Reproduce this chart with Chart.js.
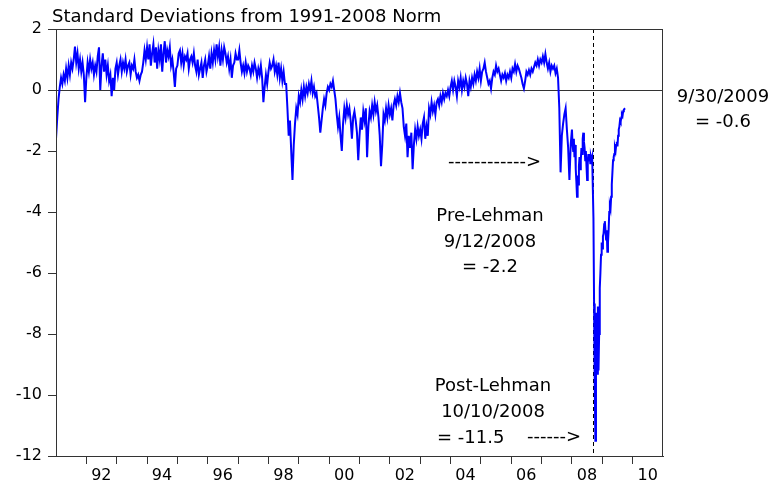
<!DOCTYPE html>
<html>
<head>
<meta charset="utf-8">
<script src="https://cdn.jsdelivr.net/npm/chart.js@4.4.1/dist/chart.umd.min.js"></script>
<style>
  body { margin: 0; background: #fff; }
  #wrap { width: 773px; height: 486px; position: relative; }
</style>
</head>
<body>
<div id="wrap"><canvas id="chart"></canvas></div>
<script>
// Standard deviations from the 1991-2008 norm.
// 1991-2007: two readings per month. 2008-2009: weekly readings.
const sd1991 = [-1.6, -0.9, -0.3, 0.1, 0.4, 0.2, 0.5, 0.3, 0.7, 0.4, 0.8, 0.5, 0.9, 0.7, 1.0, 1.42, 0.9, 1.2, 0.7, 1.0, 0.6, 0.9, 0.5, -0.4];
const sd1992 = [0.4, 0.9, 0.6, 1.0, 0.7, 0.9, 0.5, 0.8, 0.6, 1.1, 1.4, 0.0, 0.8, 1.2, 0.6, 1.0, 0.5, 0.8, 0.3, 0.5, -0.2, 0.4, 0.0, 0.7];
const sd1993 = [0.9, 0.5, 0.8, 1.0, 0.6, 0.9, 0.7, 1.0, 0.6, 0.8, 0.9, 0.5, 0.8, 0.7, 1.0, 0.6, 0.4, 0.5, 0.3, 0.5, 0.6, 0.9, 1.3, 1.0];
const sd1994 = [1.4, 1.0, 1.5, 0.8, 1.2, 1.5, 0.9, 1.4, 0.7, 1.3, 1.0, 1.5, 0.6, 1.2, 1.6, 0.9, 1.3, 1.1, 1.4, 0.8, 1.0, 0.6, 0.1, 0.7];
const sd1995 = [0.8, 1.2, 1.3, 0.9, 1.2, 0.8, 1.1, 1.0, 1.2, 0.7, 1.0, 1.1, 0.9, 1.2, 0.8, 0.6, 1.0, 0.5, 0.7, 0.9, 0.4, 0.8, 1.0, 0.6];
const sd1996 = [0.8, 1.1, 0.7, 1.2, 0.9, 1.3, 1.0, 1.5, 1.1, 1.4, 0.8, 1.3, 1.0, 1.4, 1.2, 0.9, 1.1, 0.7, 1.0, 0.4, 0.8, 0.9, 1.2, 1.0];
const sd1997 = [1.0, 1.3, 0.9, 0.6, 0.8, 0.55, 0.9, 0.6, 0.8, 0.7, 0.5, 0.8, 0.6, 0.9, 0.7, 0.4, 0.7, 0.5, 0.8, 0.4, -0.4, 0.1, 0.5, 0.2];
const sd1998 = [0.6, 0.9, 0.7, 0.8, 1.0, 0.6, 0.8, 0.5, 0.9, 0.4, 0.7, 0.3, 0.6, 0.2, 0.2, -0.6, -1.5, -1.0, -2.0, -2.95, -1.8, -1.1, -0.6, -0.8];
const sd1999 = [-0.2, -0.4, 0.0, -0.3, 0.1, -0.2, 0.1, -0.1, 0.2, 0.0, 0.3, -0.1, 0.1, -0.2, -0.1, -0.5, -0.9, -1.4, -1.0, -0.6, -0.3, -0.5, -0.1, 0.1];
const sd2000 = [0.0, 0.2, 0.1, 0.3, 0.0, -0.3, -0.8, -1.2, -0.9, -1.5, -2.0, -1.1, -0.6, -0.9, -0.5, -0.8, -0.6, -1.0, -1.6, -0.9, -0.7, -1.0, -1.4, -2.3];
const sd2001 = [-1.5, -0.9, -1.3, -0.7, -1.0, -0.6, -2.2, -1.2, -0.7, -0.9, -0.5, -0.8, -0.4, -0.7, -0.5, -0.9, -1.5, -2.5, -1.8, -0.8, -1.0, -0.6, -0.9, -0.5];
const sd2002 = [-0.8, -0.6, -1.0, -0.5, -0.3, -0.5, -0.2, -0.4, -0.1, -0.4, -0.6, -1.2, -1.5, -1.1, -2.2, -1.5, -1.9, -1.4, -2.6, -1.8, -1.3, -1.6, -1.2, -1.5];
const sd2003 = [-1.3, -1.6, -1.1, -0.9, -1.6, -1.2, -1.5, -0.6, -0.8, -0.4, -0.7, -0.5, -0.8, -0.4, -0.3, -0.5, -0.2, -0.4, -0.1, -0.3, -0.1, -0.2, 0.0, -0.2];
const sd2004 = [0.1, 0.3, 0.0, 0.3, 0.1, -0.2, 0.3, 0.1, 0.4, 0.0, 0.3, 0.1, 0.4, 0.2, -0.2, 0.3, 0.1, 0.4, 0.2, 0.5, 0.3, 0.6, 0.4, 0.7];
const sd2005 = [0.3, 0.6, 0.7, 0.9, 0.6, 0.4, 0.2, 0.3, 0.05, 0.4, 0.6, 0.5, 0.8, 0.6, 0.7, 0.5, 0.3, 0.5, 0.4, 0.55, 0.3, 0.5, 0.4, 0.6];
const sd2006 = [0.4, 0.7, 0.6, 0.85, 0.6, 0.8, 0.7, 0.55, 0.4, 0.2, 0.05, 0.3, 0.6, 0.5, 0.65, 0.5, 0.7, 0.6, 0.75, 0.9, 0.8, 1.0, 0.8, 1.0];
const sd2007 = [0.9, 1.1, 0.9, 1.18, 0.9, 0.7, 0.9, 0.6, 0.8, 0.7, 0.8, 0.55, 0.7, 0.4, -0.6, -2.7, -1.5, -1.1, -0.8, -0.6, -1.3, -1.9, -2.95, -1.8];
const sd2008 = [-1.3, -1.8, -2.0, -1.6, -2.2, -1.8, -2.6, -3.0, -3.5, -2.8, -3.1, -2.5, -2.2, -2.6, -2.3, -1.9,
                -2.1, -1.6, -1.4, -1.7, -1.9, -2.3, -2.0, -2.5, -2.95, -2.4, -2.1, -2.3, -2.1, -2.4, -2.2, -2.3,
                -2.2, -2.2, -4.2, -7.0, -9.5, -11.5, -8.0, -7.3, -9.3, -7.1, -9.2, -8.0, -6.5, -6.0, -5.4, -5.0];
const sd2009 = [-5.2, -4.8, -4.7, -4.4, -4.3, -4.6, -4.9, -4.6, -5.3, -5.0, -4.6, -4.0, -3.8, -3.9, -3.5, -3.1,
                -2.7, -2.3, -2.2, -2.1, -1.9, -2.0, -1.8, -1.7, -1.85, -1.5, -1.3, -1.2, -1.0, -1.05, -0.9, -0.8,
                -0.85, -0.7, -0.65, -0.62, -0.6];

const semiMonthly = [sd1991, sd1992, sd1993, sd1994, sd1995, sd1996, sd1997, sd1998, sd1999,
                     sd2000, sd2001, sd2002, sd2003, sd2004, sd2005, sd2006, sd2007].flat();
const weekly = [sd2008, sd2009].flat();

// Axis ticks and marker dates
const xTickYears = [1992, 1993, 1994, 1995, 1996, 1997, 1998, 1999, 2000, 2001,
                    2002, 2003, 2004, 2005, 2006, 2007, 2008, 2009, 2010];
const yTickValues = [2, 0, -2, -4, -6, -8, -10, -12];
const lehmanDate = 2008.705; // 9/15/2008

const points = [];
semiMonthly.forEach((v, i) => points.push({ x: 1991 + i / 24, y: v }));
weekly.forEach((v, i) => points.push({ x: 2008 + i / 48, y: v }));

const FONT = 'DejaVu Sans';

// Box, Lehman dashed line and the text notes
const extras = {
    id: 'extras',
    beforeDatasetsDraw(chart) {
        const { ctx, chartArea, scales } = chart;
        const x = Math.round(scales.x.getPixelForValue(lehmanDate)) + 0.5;
        ctx.save();
        ctx.strokeStyle = '#000';
        ctx.lineWidth = 1;
        ctx.setLineDash([4, 3]);
        ctx.beginPath();
        ctx.moveTo(x, chartArea.top);
        ctx.lineTo(x, chartArea.bottom);
        ctx.stroke();
        ctx.restore();
    },
    afterDatasetsDraw(chart) {
        const { ctx, chartArea } = chart;
        ctx.save();
        ctx.strokeStyle = '#333';
        ctx.lineWidth = 1;
        ctx.strokeRect(chartArea.left + 0.5, chartArea.top + 0.5,
                       chartArea.right - chartArea.left - 1, chartArea.bottom - chartArea.top);
        ctx.restore();
    },
    afterDraw(chart) {
        const { ctx } = chart;
        ctx.save();
        ctx.fillStyle = '#000';
        ctx.font = '18px "' + FONT + '"';
        ctx.textBaseline = 'alphabetic';

        ctx.textAlign = 'left';
        ctx.fillText('Standard Deviations from 1991-2008 Norm', 52, 21.5);
        ctx.fillText('------------>', 448, 166.5);
        ctx.fillText('= -11.5', 437, 443);
        ctx.fillText('------>', 527, 442);

        ctx.textAlign = 'center';
        ctx.fillText('9/30/2009', 723, 101.5);
        ctx.fillText('= -0.6', 723, 127);
        ctx.fillText('Pre-Lehman', 490, 220.5);
        ctx.fillText('9/12/2008', 490, 246.5);
        ctx.fillText('= -2.2', 490, 271.5);
        ctx.fillText('Post-Lehman', 493, 390.5);
        ctx.fillText('10/10/2008', 493, 416.5);
        ctx.restore();
    }
};

document.addEventListener('DOMContentLoaded', () => {
    const ctx = document.getElementById('chart').getContext('2d');

    new Chart(ctx, {
        type: 'line',
        data: {
            datasets: [{
                label: 'Std. deviations',
                data: points,
                borderColor: '#0000FF',
                borderWidth: 2,
                pointRadius: 0,
                tension: 0,
                fill: false
            }]
        },
        options: {
            responsive: true,
            maintainAspectRatio: false,
            animation: false,
            events: [],
            layout: { padding: { top: 29, right: 110, left: 0, bottom: 0 } },
            plugins: {
                legend: { display: false },
                title: { display: false },
                tooltip: { enabled: false }
            },
            scales: {
                x: {
                    type: 'linear',
                    min: 1991,
                    max: 2011,
                    afterBuildTicks: (scale) => {
                        scale.ticks = xTickYears.map(v => ({ value: v }));
                    },
                    afterFit: (scale) => { scale.height = 30; },
                    border: { display: true, color: '#333', width: 1 },
                    grid: {
                        drawOnChartArea: false,
                        drawTicks: true,
                        tickLength: 8,
                        color: '#333',
                        lineWidth: 1
                    },
                    ticks: {
                        autoSkip: false,
                        maxRotation: 0,
                        labelOffset: 15,
                        padding: 2,
                        color: '#000',
                        font: { family: FONT, size: 16 },
                        callback: (v) => (v % 2 === 0 ? String(v).slice(2) : '')
                    }
                },
                y: {
                    type: 'linear',
                    min: -12,
                    max: 2,
                    afterBuildTicks: (scale) => {
                        scale.ticks = yTickValues.map(v => ({ value: v }));
                    },
                    afterFit: (scale) => { scale.width = 56; },
                    border: { display: true, color: '#333', width: 1 },
                    grid: {
                        drawTicks: true,
                        tickLength: 8,
                        tickColor: '#333',
                        color: (c) => (c.tick && c.tick.value === 0 ? '#333' : 'rgba(0,0,0,0)'),
                        lineWidth: 1
                    },
                    ticks: {
                        padding: 6,
                        color: '#000',
                        font: { family: FONT, size: 16 },
                        callback: (v) => String(v)
                    }
                }
            }
        },
        plugins: [extras]
    });
});
</script>
</body>
</html>
